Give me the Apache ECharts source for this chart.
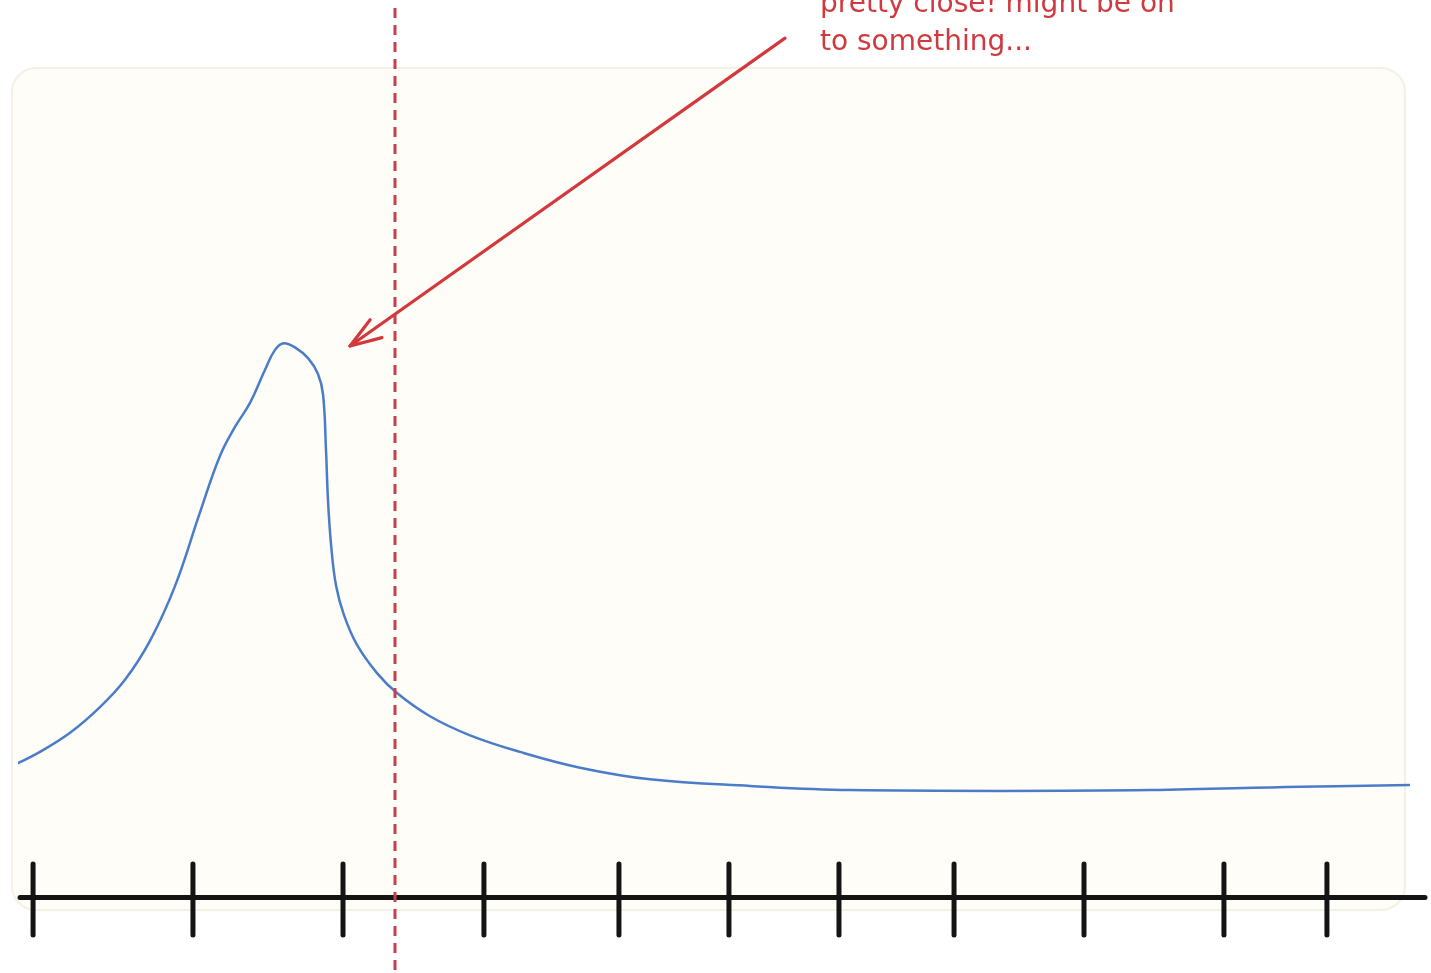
<!DOCTYPE html>
<html>
<head>
<meta charset="utf-8">
<script src="https://cdn.jsdelivr.net/npm/echarts@6/dist/echarts.min.js"></script>
<style>
  html, body { margin: 0; padding: 0; background: #ffffff; }
  #chart { width: 1431px; height: 973px; }
</style>
</head>
<body>
<div id="chart"></div>
<script>
// ---- data ----
var curveX = [-0.57, 1.42, 3.56, 5.69, 7.47, 9.25, 11.03, 12.81, 14.23, 15.30, 16.37, 17.44, 18.15, 18.79,
              19.57, 20.50, 21.21, 21.57, 21.78, 21.92, 22.14, 22.49, 23.06, 23.99, 25.41, 26.83,
              29.18, 32.03, 35.59, 39.86, 44.84, 51.96, 59.07, 69.75, 80.43, 91.10, 98.93];
var curveY = [15.8, 17.5, 19.8, 22.9, 26.2, 30.9, 37.5, 46.4, 53.2, 56.7, 59.6, 63.6, 66.0, 66.8,
              66.3, 65.0, 63.1, 60.6, 53.9, 47.9, 42.5, 37.6, 34.0, 30.4, 27.0, 24.6,
              21.8, 19.5, 17.5, 15.6, 14.2, 13.4, 12.9, 12.8, 12.9, 13.3, 13.5];
var tickPositions = [0.93, 12.31, 22.99, 33.02, 42.63, 50.46, 58.29, 66.48, 75.73, 85.69, 93.02];
var markerX = [26.69];
var arrowFrom = [54.45, 103.6];
var arrowTo = [23.49, 66.47];
var noteLines = ['pretty close! might be on', 'to something...'];

var curveData = curveX.map(function (x, i) { return [x, curveY[i]]; });

var chart = echarts.init(document.getElementById('chart'), null, { renderer: 'canvas' });

var option = {
  animation: false,
  backgroundColor: '#ffffff',
  grid: { left: 20, right: 6, top: 68, bottom: 76, containLabel: false },
  xAxis: {
    type: 'value', min: 0, max: 100,
    axisLine: { show: true, lineStyle: { color: '#141414', width: 5, cap: 'round' } },
    axisTick: { show: false }, axisLabel: { show: false }, splitLine: { show: false }
  },
  yAxis: {
    type: 'value', min: 0, max: 100, show: false,
    splitLine: { show: false }
  },
  graphic: [
    {
      type: 'rect', z: -10, silent: true,
      shape: { x: 12, y: 68, width: 1393, height: 842, r: 24 },
      style: { fill: '#fffdf7', stroke: '#f5f0e4', lineWidth: 2 }
    },
    {
      type: 'text', z: 100, silent: true,
      x: 820, y: -14,
      style: {
        text: noteLines.join('\n'),
        fill: '#d03a3f',
        font: '28px "DejaVu Sans", sans-serif',
        lineHeight: 38,
        verticalAlign: 'top',
        align: 'left'
      }
    }
  ],
  series: [
    {
      type: 'line', name: 'signal', data: curveData, clip: false,
      smooth: 0.4, showSymbol: false, symbol: 'none',
      lineStyle: { color: '#4a7cc9', width: 2.5 }, z: 5
    },
    {
      type: 'custom', name: 'ticks', data: tickPositions.map(function (t) { return [t, 0]; }),
      renderItem: function (params, api) {
        var p = api.coord([api.value(0), 0]);
        return {
          type: 'line',
          shape: { x1: p[0], y1: p[1] - 33, x2: p[0], y2: p[1] + 38 },
          style: { stroke: '#141414', lineWidth: 5, lineCap: 'round' }
        };
      }, z: 6
    },
    {
      type: 'custom', name: 'marker', data: markerX.map(function (m) { return [m, 0]; }),
      renderItem: function (params, api) {
        var p = api.coord([api.value(0), 0]);
        return {
          type: 'line',
          shape: { x1: p[0], y1: 8, x2: p[0], y2: api.getHeight() },
          style: { stroke: '#c4404c', lineWidth: 3, lineDash: [10, 7] }
        };
      }, z: 7
    },
    {
      type: 'custom', name: 'arrow',
      data: [[arrowFrom[0], arrowFrom[1], arrowTo[0], arrowTo[1]]],
      dimensions: ['x1', 'y1', 'x2', 'y2'],
      renderItem: function (params, api) {
        var a = api.coord([api.value(0), api.value(1)]);
        var b = api.coord([api.value(2), api.value(3)]);
        var ang = Math.atan2(a[1] - b[1], a[0] - b[0]);
        var len = 33;
        var c1 = [b[0] + len * Math.cos(ang - 0.3), b[1] + len * Math.sin(ang - 0.3)];
        var c2 = [b[0] + len * Math.cos(ang + 0.36), b[1] + len * Math.sin(ang + 0.36)];
        var st = { stroke: '#d2383c', lineWidth: 3.2, lineCap: 'round', lineJoin: 'round', fill: null };
        return {
          type: 'group',
          children: [
            { type: 'line', shape: { x1: a[0], y1: a[1], x2: b[0], y2: b[1] }, style: st },
            { type: 'polyline', shape: { points: [c1, b, c2] }, style: st }
          ]
        };
      }, z: 8
    }
  ]
};

chart.setOption(option);
</script>
</body>
</html>
